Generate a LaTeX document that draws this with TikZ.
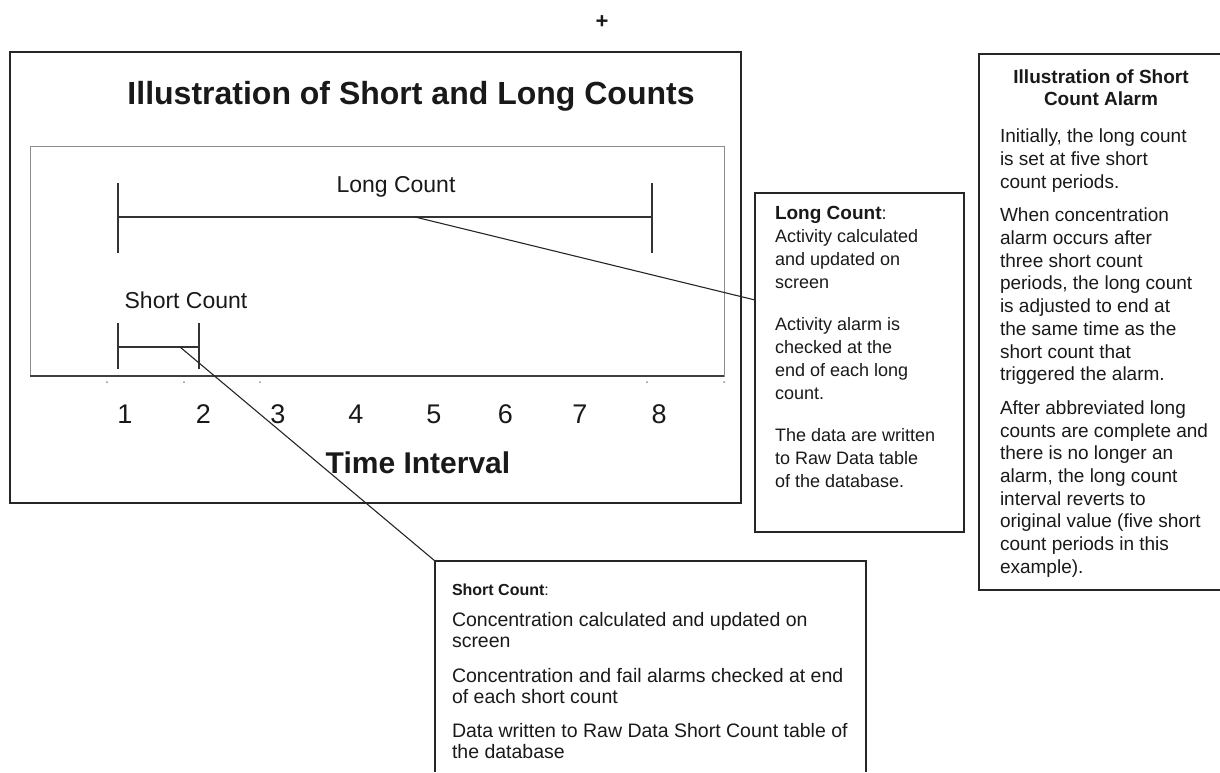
\documentclass[tikz,border=0pt]{standalone}
\usepackage{fontspec}
\setmainfont{Liberation Sans}
\begin{document}
\begin{tikzpicture}[x=1pt,y=-1pt,
  every node/.style={inner sep=0pt,outer sep=0pt,text=black!90},
  frame/.style={draw=black!85,line width=1.4pt},
  innerframe/.style={draw=black!45,line width=1pt},
  axisline/.style={draw=black!75,line width=1.8pt},
  bar/.style={draw=black!80,line width=1.6pt},
  leader/.style={draw=black!85,line width=1.1pt},
  tickdot/.style={fill=black!45},
  numlabel/.style={font=\fontsize{27}{30}\selectfont,anchor=base},
  barlabel/.style={font=\fontsize{23}{26}\selectfont,anchor=base},
  note/.style={align=left,anchor=north west},
]
\useasboundingbox (0,0) rectangle (1220,772);

% plus sign
\node[font=\fontsize{22}{24}\selectfont\bfseries] (plus) at (602,22) {+};

% left frames
\node[frame,minimum width=731,minimum height=451,anchor=north west] (outer) at (10,52) {};
\node[innerframe,minimum width=694,minimum height=230,anchor=north west] (inner) at (30,146) {};
\draw[axisline] (inner.south west) -- (inner.south east);

\node[font=\fontsize{32}{36}\selectfont\bfseries,anchor=base] (title) at (411,104) {Illustration of Short and Long Counts};

% long count bar
\coordinate (lcL) at (118,217);
\coordinate (lcR) at (652,217);
\draw[bar] (118,183) -- (118,253);
\draw[bar] (652,183) -- (652,253);
\draw[bar] (lcL) -- (lcR);
\node[barlabel] (lclabel) at (396,192) {Long Count};

% short count bar
\coordinate (scL) at (118,347);
\coordinate (scR) at (199,347);
\draw[bar] (118,323) -- (118,369);
\draw[bar] (199,323) -- (199,369);
\draw[bar] (scL) -- (scR);
\node[barlabel] (sclabel) at (186,308) {Short Count};

% tick dots
\foreach \x in {107,184,260,647,724} \fill[tickdot] (\x,382) circle (1);

% numbers
\foreach \n/\x in {1/125,2/203.5,3/278,4/356,5/434,6/505.5,7/580,8/659}
  \node[numlabel] (n\n) at (\x,423) {\n};

\node[font=\fontsize{30}{34}\selectfont\bfseries,anchor=base] (axislabel) at (418,473) {Time Interval};

% long count note
\node[frame,minimum width=209,minimum height=339,anchor=north west] (lbox) at (755,193) {};
\node[note,font=\fontsize{18}{23}\selectfont] (ltext) at (775,206)
  {{\fontsize{19}{23}\selectfont\textbf{Long Count}}:\\Activity calculated\\and updated on\\screen\\[19pt]Activity alarm is\\checked at the\\end of each long\\count.\\[19pt]The data are written\\to Raw Data table\\of the database.};

% right note
\coordinate (rbTR) at (1220,54);
\coordinate (rbTL) at (979,54);
\coordinate (rbBL) at (979,590);
\coordinate (rbBR) at (1220,590);
\draw[frame] (rbTR) -- (rbTL) -- (rbBL) -- (rbBR);
\node[align=center,anchor=north,font=\fontsize{19}{22}\selectfont\bfseries] (rtitle) at (1101,70)
  {Illustration of Short\\Count Alarm};
\node[note,font=\fontsize{19}{22.7}\selectfont] (rtext) at (1000,129)
  {Initially, the long count\\is set at five short\\count periods.\\[11pt]When concentration\\alarm occurs after\\three short count\\periods, the long count\\is adjusted to end at\\the same time as the\\short count that\\triggered the alarm.\\[11pt]After abbreviated long\\counts are complete and\\there is no longer an\\alarm, the long count\\interval reverts to\\original value (five short\\count periods in this\\example).};

% short count note
\coordinate (sbBL) at (435,772);
\coordinate (sbTL) at (435,561);
\coordinate (sbTR) at (866,561);
\coordinate (sbBR) at (866,772);
\draw[frame] (sbBL) -- (sbTL) -- (sbTR) -- (sbBR);
\node[note,font=\fontsize{19.5}{21.5}\selectfont] (stext) at (452,584)
  {{\fontsize{16}{21.5}\selectfont\textbf{Short Count}:}\\[9pt]Concentration calculated and updated on\\screen\\[13pt]Concentration and fail alarms checked at end\\of each short count\\[12pt]Data written to Raw Data Short Count table of\\the database};

% leaders
\coordinate (lcmid) at (415,217);
\coordinate (lbin) at (755,300);
\draw[leader] (lcmid) -- (lbin);
\coordinate (scmid) at (180,347);
\draw[leader] (scmid) -- (sbTL);
\end{tikzpicture}
\end{document}
